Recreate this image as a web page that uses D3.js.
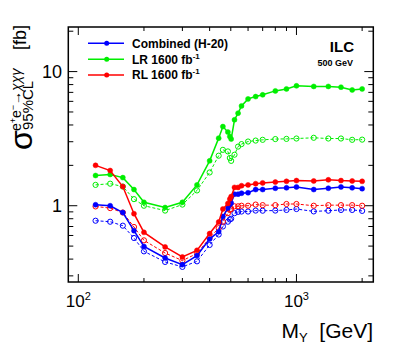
<!doctype html>
<html lang="en">
<head>
<meta charset="utf-8">
<title>ILC limit</title>
<script src="https://d3js.org/d3.v7.min.js"></script>
<style>
  body { margin: 0; background: #fff; }
  svg { display: block; font-family: "Liberation Sans", Arial, Helvetica, sans-serif; }
</style>
</head>
<body>
<svg width="407" height="344"></svg>
<script>
// mass points (GeV)
var mass = [120, 140, 160, 180, 200, 250, 300, 350, 400, 440, 460, 485, 495, 502, 520, 540, 560, 600, 650, 700, 800, 900, 1000, 1200, 1400, 1600, 1800, 2000];

// combined (H-20), solid = full markers, dashed = open markers
var combSolid = [1.017, 1.0, 0.89, 0.652, 0.497, 0.408, 0.364, 0.425, 0.565, 0.64, 0.83, 0.96, 1.02, 1.05, 1.22, 1.22, 1.24, 1.25, 1.32, 1.32, 1.35, 1.36, 1.38, 1.32, 1.35, 1.38, 1.36, 1.34];
var combDash = [0.773, 0.76, 0.71, 0.575, 0.457, 0.381, 0.35, 0.385, 0.51, 0.61, 0.70, 0.76, 0.79, 0.80, 0.88, 0.90, 0.905, 0.905, 0.92, 0.918, 0.92, 0.93, 0.945, 0.907, 0.918, 0.93, 0.93, 0.915];
// LR 1600 fb-1
var lrSolid = [1.68, 1.71, 1.62, 1.32, 1.06, 0.97, 1.06, 1.43, 2.16, 3.19, 3.89, 3.54, 3.28, 3.14, 4.37, 4.90, 5.55, 6.26, 6.51, 6.71, 7.18, 7.43, 7.83, 7.75, 7.75, 7.65, 7.3, 7.43];
var lrDash = [1.43, 1.46, 1.39, 1.12, 1.0, 0.92, 1.02, 1.30, 1.77, 2.36, 2.61, 2.54, 2.27, 2.16, 2.40, 2.76, 2.88, 3.01, 3.06, 3.10, 3.14, 3.15, 3.17, 3.21, 3.17, 3.17, 3.10, 3.11];
// RL 1600 fb-1
var rlSolid = [2.0, 1.83, 1.39, 0.872, 0.633, 0.493, 0.415, 0.465, 0.62, 0.756, 0.945, 1.04, 1.12, 1.17, 1.37, 1.37, 1.41, 1.43, 1.46, 1.48, 1.50, 1.52, 1.54, 1.53, 1.56, 1.54, 1.53, 1.52];
var rlDash = [0.988, 0.96, 0.89, 0.694, 0.552, 0.444, 0.39, 0.44, 0.575, 0.68, 0.76, 0.88, 0.93, 0.945, 0.99, 0.99, 1.0, 1.0, 1.02, 1.01, 1.01, 1.03, 1.03, 1.0, 1.01, 1.01, 1.01, 1.0];

var legendNames = ["Combined (H-20)", "LR 1600 fb", "RL 1600 fb"];
var xMajor = [100, 1000];
var yMajor = [1, 10];

var svg = d3.select("svg");
var x = d3.scaleLog().domain([90, 2250]).range([68.3, 373.3]);
var y = d3.scaleLog().domain([0.27, 21.5]).range([282, 27]);

var x0 = x.range()[0], x1 = x.range()[1], y0 = y.range()[0], y1 = y.range()[1];

// ticks
var xMinor = [], yMinor = [];
[10, 100, 1000].forEach(function (d) {
  for (var k = 2; k <= 9; k++) {
    var v = d * k;
    if (v > 90 && v < 2250 && xMajor.indexOf(v) < 0) xMinor.push(v);
  }
});
[0.1, 1, 10].forEach(function (d) {
  for (var k = 2; k <= 9; k++) {
    var v = +(d * k).toFixed(3);
    if (v > 0.27 && v < 21.5 && yMajor.indexOf(v) < 0) yMinor.push(v);
  }
});

var ax = svg.append("g").attr("stroke", "#000").attr("stroke-width", 1);
xMinor.forEach(function (v) {
  ax.append("line").attr("x1", x(v)).attr("x2", x(v)).attr("y1", y0).attr("y2", y0 - 4);
  ax.append("line").attr("x1", x(v)).attr("x2", x(v)).attr("y1", y1).attr("y2", y1 + 4);
});
xMajor.forEach(function (v) {
  ax.append("line").attr("x1", x(v)).attr("x2", x(v)).attr("y1", y0).attr("y2", y0 - 8);
  ax.append("line").attr("x1", x(v)).attr("x2", x(v)).attr("y1", y1).attr("y2", y1 + 8);
});
yMinor.forEach(function (v) {
  ax.append("line").attr("y1", y(v)).attr("y2", y(v)).attr("x1", x0).attr("x2", x0 + 5);
  ax.append("line").attr("y1", y(v)).attr("y2", y(v)).attr("x1", x1).attr("x2", x1 - 5);
});
yMajor.forEach(function (v) {
  ax.append("line").attr("y1", y(v)).attr("y2", y(v)).attr("x1", x0).attr("x2", x0 + 9);
  ax.append("line").attr("y1", y(v)).attr("y2", y(v)).attr("x1", x1).attr("x2", x1 - 9);
});

svg.append("rect").attr("x", x0).attr("y", y1).attr("width", x1 - x0).attr("height", y0 - y1)
  .attr("fill", "none").attr("stroke", "#000").attr("stroke-width", 1.5);

// tick labels
xMajor.forEach(function (v) {
  var t = svg.append("text").attr("x", x(v)).attr("y", 307).attr("text-anchor", "middle")
    .attr("font-size", 17);
  t.append("tspan").text("10");
  t.append("tspan").attr("font-size", 11).attr("dy", -7).text(Math.round(Math.log10(v)));
});
yMajor.forEach(function (v) {
  svg.append("text").attr("x", 62).attr("y", y(v) + 6.5).attr("text-anchor", "end")
    .attr("font-size", 18).text(v);
});

// series
var series = [
  { vals: combDash, color: "#0000ff", dash: true },
  { vals: lrDash, color: "#00ee00", dash: true },
  { vals: rlDash, color: "#ff0000", dash: true },
  { vals: combSolid, color: "#0000ff", dash: false },
  { vals: lrSolid, color: "#00ee00", dash: false },
  { vals: rlSolid, color: "#ff0000", dash: false }
];
var line = d3.line().x(function (d) { return x(d[0]); }).y(function (d) { return y(d[1]); });

series.forEach(function (s) {
  var pts = mass.map(function (m, i) { return [m, s.vals[i]]; });
  var g = svg.append("g");
  g.append("path").datum(pts).attr("d", line).attr("fill", "none")
    .attr("stroke", s.color).attr("stroke-width", s.dash ? 1 : 1.5)
    .attr("stroke-dasharray", s.dash ? "3,2" : null);
  g.selectAll("circle").data(pts).enter().append("circle")
    .attr("cx", function (d) { return x(d[0]); })
    .attr("cy", function (d) { return y(d[1]); })
    .attr("r", s.dash ? 2.6 : 2.5)
    .attr("fill", s.dash ? "none" : s.color)
    .attr("stroke", s.color).attr("stroke-width", s.dash ? 1 : 0.5);
});

// legend
var legColors = ["#0000ff", "#00ee00", "#ff0000"];
var legY = [43.3, 59.3, 75];
legendNames.forEach(function (n, i) {
  var g = svg.append("g");
  g.append("line").attr("x1", 88).attr("x2", 124).attr("y1", legY[i]).attr("y2", legY[i])
    .attr("stroke", legColors[i]).attr("stroke-width", 1.5);
  g.append("circle").attr("cx", 106.7).attr("cy", legY[i]).attr("r", 2.5).attr("fill", legColors[i]);
  var t = g.append("text").attr("x", 132).attr("y", legY[i] + 4.3).attr("font-size", 12)
    .attr("font-weight", "bold").text(n);
  if (i > 0) t.append("tspan").attr("font-size", 8).attr("dy", -5).text("-1");
});

// labels
svg.append("text").attr("x", 354).attr("y", 51.7).attr("text-anchor", "end")
  .attr("font-size", 15).attr("font-weight", "bold").text("ILC");
svg.append("text").attr("x", 353).attr("y", 65.7).attr("text-anchor", "end")
  .attr("font-size", 9).attr("font-weight", "bold").text("500 GeV");

var xl = svg.append("text").attr("x", 373).attr("y", 338).attr("text-anchor", "end").attr("font-size", 21);
xl.append("tspan").text("M");
xl.append("tspan").attr("font-size", 13).attr("dy", 4).text("Y");
xl.append("tspan").attr("dy", -4).text("\u00a0 [GeV]");

var yl = svg.append("g").attr("transform", "translate(32,150) rotate(-90)");
yl.append("text").attr("x", 0).attr("y", 0).attr("font-size", 32).text("\u03c3");
var sup = yl.append("text").attr("x", 19).attr("y", -11).attr("font-size", 14);
sup.append("tspan").text("e");
sup.append("tspan").attr("font-size", 9).attr("dy", -5).text("+");
sup.append("tspan").attr("dy", 5).text("e");
sup.append("tspan").attr("font-size", 9).attr("dy", -5).text("\u2212");
sup.append("tspan").attr("dy", 5).attr("font-style", "italic").text("\u2192\u03c7\u03c7\u03b3");
yl.append("text").attr("x", 20).attr("y", 1).attr("font-size", 15).text("95%CL");
yl.append("text").attr("x", 100).attr("y", -6).attr("font-size", 18).text("[fb]");
</script>
</body>
</html>
